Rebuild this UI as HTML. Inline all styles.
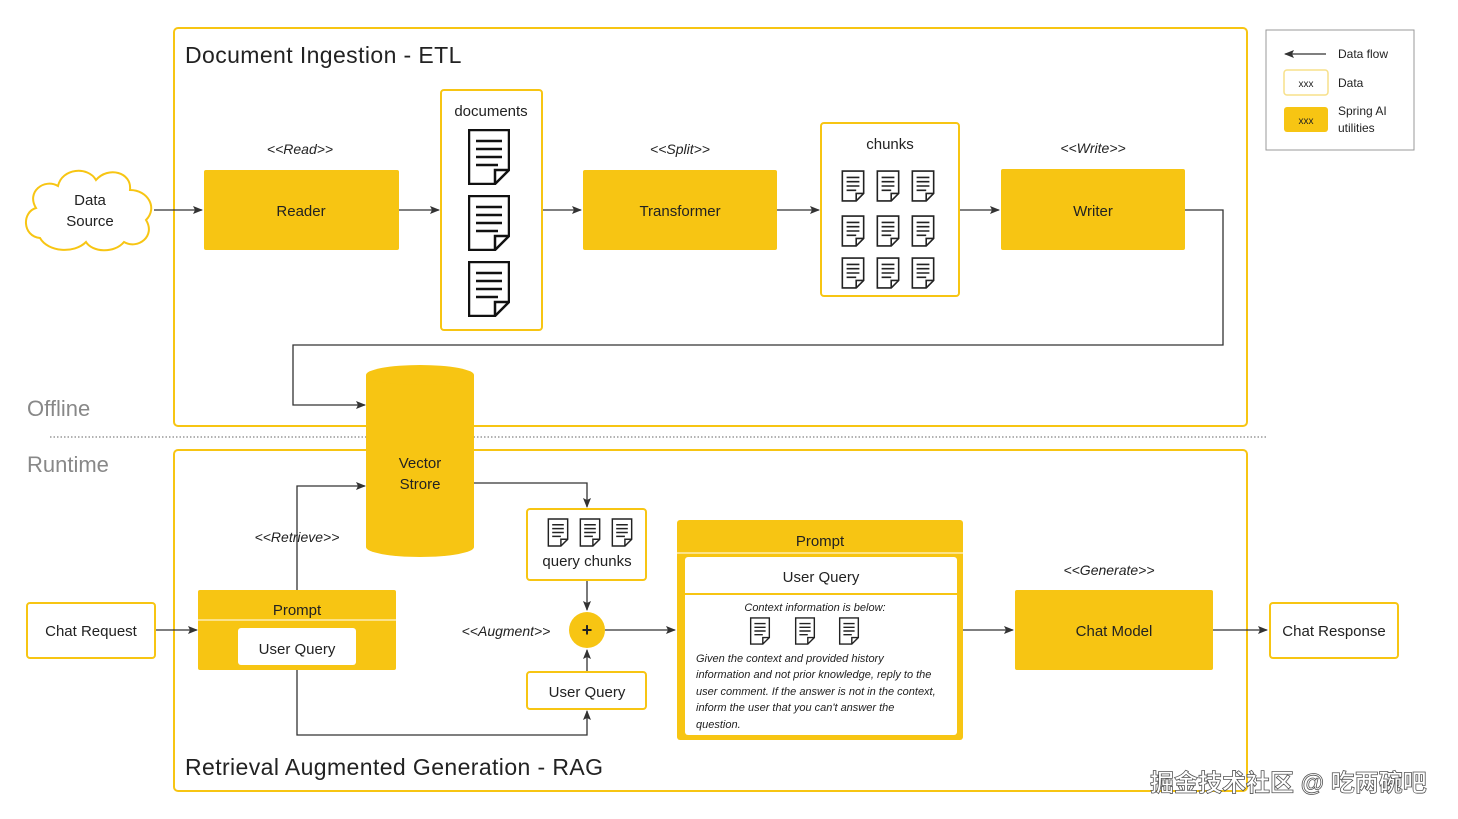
<!DOCTYPE html>
<html><head><meta charset="utf-8"><style>
html,body{margin:0;padding:0;background:#fff;}
svg{display:block;font-family:"Liberation Sans","Noto Sans CJK SC",sans-serif;}
</style></head><body>
<svg width="1458" height="819" viewBox="0 0 1458 819" xmlns="http://www.w3.org/2000/svg">
<defs>
<marker id="ar" markerWidth="10" markerHeight="8" refX="9" refY="4" orient="auto" markerUnits="userSpaceOnUse">
<path d="M0,0 L10,4 L0,8 L2,4 Z" fill="#333"/></marker>
<symbol id="bd" viewBox="0 0 42 56"><path d="M1,1 H41 V41 L27,55 H1 Z" fill="#fff" stroke="#111" stroke-width="2.5"/><path d="M41,41 H27 V55" fill="none" stroke="#111" stroke-width="2.5"/><path d="M8,12H34M8,20H34M8,28H34M8,36H30" stroke="#111" stroke-width="2.5"/></symbol>
<symbol id="sd" viewBox="0 0 22 30"><path d="M1,1 H21 V22 L14,29 H1 Z" fill="#fff" stroke="#222" stroke-width="1.5"/><path d="M21,22 H14 V29" fill="none" stroke="#222" stroke-width="1.5"/><path d="M5,7H17M5,11H17M5,15H17M5,19H14" stroke="#222" stroke-width="1.5"/></symbol>
</defs>
<g fill="none" stroke="#f7c513" stroke-width="2">
<rect x="174" y="28" width="1073" height="398" rx="4"/>
<rect x="174" y="450" width="1073" height="341" rx="4"/>
</g>
<line x1="50" y1="437" x2="1268" y2="437" stroke="#999" stroke-width="1.5" stroke-dasharray="1.5,2"/>
<text x="185" y="63" font-size="23" letter-spacing="0.4" fill="#222">Document Ingestion - ETL</text>
<text x="185" y="775" font-size="23" letter-spacing="0.4" fill="#222">Retrieval Augmented Generation - RAG</text>
<text x="27" y="416" font-size="22" fill="#888">Offline</text>
<text x="27" y="472" font-size="22" fill="#888">Runtime</text>

<path d="M40,238 C22,236 22,212 36,208 C26,192 44,178 58,186 C62,168 88,166 96,180 C108,166 132,172 130,190 C148,190 158,208 146,220 C156,236 138,250 124,242 C114,254 92,252 86,242 C74,254 48,252 40,238 Z" fill="#fff" stroke="#f7c513" stroke-width="2"/>
<text x="90" y="205" font-size="15" fill="#222" text-anchor="middle">Data</text>
<text x="90" y="226" font-size="15" fill="#222" text-anchor="middle">Source</text>

<g stroke="#333" stroke-width="1.3" fill="none" marker-end="url(#ar)">
<line x1="154" y1="210" x2="202" y2="210"/>
<line x1="399" y1="210" x2="439" y2="210"/>
<line x1="542" y1="210" x2="581" y2="210"/>
<line x1="777" y1="210" x2="819" y2="210"/>
<line x1="959" y1="210" x2="999" y2="210"/>
<path d="M1185,210 H1223 V345 H293 V405 H365"/>
<path d="M297,590 V486 H365"/>
<path d="M474,483 H587 V507"/>
<line x1="587" y1="580" x2="587" y2="610"/>
<line x1="587" y1="672" x2="587" y2="650"/>
<path d="M297,670 V735 H587 V711"/>
<line x1="155" y1="630" x2="197" y2="630"/>
<line x1="605" y1="630" x2="675" y2="630"/>
<line x1="963" y1="630" x2="1013" y2="630"/>
<line x1="1213" y1="630" x2="1267" y2="630"/>
</g>

<g fill="#f7c513">
<rect x="204" y="170" width="195" height="80" rx="2"/>
<rect x="583" y="170" width="194" height="80" rx="2"/>
<rect x="1001" y="169" width="184" height="81" rx="2"/>
<rect x="1015" y="590" width="198" height="80" rx="2"/>
</g>
<g font-size="15" fill="#222" text-anchor="middle">
<text x="301" y="216">Reader</text>
<text x="680" y="216">Transformer</text>
<text x="1093" y="216">Writer</text>
<text x="1114" y="636">Chat Model</text>
</g>
<g font-size="14" fill="#222" text-anchor="middle" font-style="italic">
<text x="300" y="154">&lt;&lt;Read&gt;&gt;</text>
<text x="680" y="154">&lt;&lt;Split&gt;&gt;</text>
<text x="1093" y="153">&lt;&lt;Write&gt;&gt;</text>
<text x="297" y="542">&lt;&lt;Retrieve&gt;&gt;</text>
<text x="506" y="636">&lt;&lt;Augment&gt;&gt;</text>
<text x="1109" y="575">&lt;&lt;Generate&gt;&gt;</text>
</g>

<rect x="441" y="90" width="101" height="240" rx="3" fill="#fff" stroke="#f7c513" stroke-width="2"/>
<text x="491" y="116" font-size="15" fill="#222" text-anchor="middle">documents</text>
<use href="#bd" x="468" y="129" width="42" height="56"/>
<use href="#bd" x="468" y="195" width="42" height="56"/>
<use href="#bd" x="468" y="261" width="42" height="56"/>

<rect x="821" y="123" width="138" height="173" rx="3" fill="#fff" stroke="#f7c513" stroke-width="2"/>
<text x="890" y="149" font-size="15" fill="#222" text-anchor="middle">chunks</text>
<g>
<use href="#sd" x="841" y="170" width="24" height="32"/><use href="#sd" x="876" y="170" width="24" height="32"/><use href="#sd" x="911" y="170" width="24" height="32"/>
<use href="#sd" x="841" y="215" width="24" height="32"/><use href="#sd" x="876" y="215" width="24" height="32"/><use href="#sd" x="911" y="215" width="24" height="32"/>
<use href="#sd" x="841" y="257" width="24" height="32"/><use href="#sd" x="876" y="257" width="24" height="32"/><use href="#sd" x="911" y="257" width="24" height="32"/>
</g>

<path d="M366,375 V547 A54,10 0 0 0 474,547 V375 Z" fill="#f7c513"/>
<ellipse cx="420" cy="375" rx="54" ry="10" fill="#f7c513"/>
<text x="420" y="468" font-size="15" fill="#222" text-anchor="middle">Vector</text>
<text x="420" y="489" font-size="15" fill="#222" text-anchor="middle">Strore</text>

<rect x="27" y="603" width="128" height="55" rx="3" fill="#fff" stroke="#f7c513" stroke-width="2"/>
<text x="91" y="636" font-size="15" fill="#222" text-anchor="middle">Chat Request</text>
<rect x="1270" y="603" width="128" height="55" rx="3" fill="#fff" stroke="#f7c513" stroke-width="2"/>
<text x="1334" y="636" font-size="15" fill="#222" text-anchor="middle">Chat Response</text>

<rect x="198" y="590" width="198" height="80" rx="2" fill="#f7c513"/>
<line x1="198" y1="620" x2="396" y2="620" stroke="#fff" stroke-width="1"/>
<text x="297" y="615" font-size="15" fill="#222" text-anchor="middle">Prompt</text>
<rect x="238" y="628" width="118" height="37" rx="3" fill="#fff"/>
<text x="297" y="654" font-size="15" fill="#222" text-anchor="middle">User Query</text>

<rect x="527" y="509" width="119" height="71" rx="3" fill="#fff" stroke="#f7c513" stroke-width="2"/>
<use href="#sd" x="547" y="518" width="22" height="29"/><use href="#sd" x="579" y="518" width="22" height="29"/><use href="#sd" x="611" y="518" width="22" height="29"/>
<text x="587" y="566" font-size="15" fill="#222" text-anchor="middle">query chunks</text>
<rect x="527" y="672" width="119" height="37" rx="3" fill="#fff" stroke="#f7c513" stroke-width="2"/>
<text x="587" y="697" font-size="15" fill="#222" text-anchor="middle">User Query</text>
<circle cx="587" cy="630" r="18" fill="#f7c513"/>
<text x="587" y="636" font-size="18" font-weight="bold" fill="#222" text-anchor="middle">+</text>

<rect x="677" y="520" width="286" height="220" rx="3" fill="#f7c513"/>
<line x1="677" y1="553" x2="963" y2="553" stroke="#fff" stroke-width="1"/>
<text x="820" y="546" font-size="15" fill="#222" text-anchor="middle">Prompt</text>
<rect x="685" y="557" width="272" height="178" rx="3" fill="#fff"/>
<line x1="685" y1="594" x2="957" y2="594" stroke="#f7c513" stroke-width="2"/>
<text x="821" y="582" font-size="15" fill="#222" text-anchor="middle">User Query</text>
<text x="815" y="611" font-size="11" font-style="italic" fill="#222" text-anchor="middle">Context information is below:</text>
<use href="#sd" x="749" y="617" width="22" height="28"/><use href="#sd" x="794" y="617" width="22" height="28"/><use href="#sd" x="838" y="617" width="22" height="28"/>
<g font-size="11" font-style="italic" fill="#222">
<text x="696" y="662">Given the context and provided history</text>
<text x="696" y="678">information and not prior knowledge, reply to the</text>
<text x="696" y="695">user comment. If the answer is not in the context,</text>
<text x="696" y="711">inform the user that you can't answer the</text>
<text x="696" y="728">question.</text>
</g>

<rect x="1266" y="30" width="148" height="120" fill="#fff" stroke="#999" stroke-width="1"/>
<line x1="1326" y1="54" x2="1285" y2="54" stroke="#333" stroke-width="1.3" marker-end="url(#ar)"/>
<text x="1338" y="58" font-size="12" fill="#222">Data flow</text>
<rect x="1284" y="70" width="44" height="25" rx="3" fill="#fff" stroke="#f7e08a" stroke-width="1.5"/>
<text x="1306" y="87" font-size="10" fill="#222" text-anchor="middle">xxx</text>
<text x="1338" y="87" font-size="12" fill="#222">Data</text>
<rect x="1284" y="107" width="44" height="25" rx="3" fill="#f7c513"/>
<text x="1306" y="124" font-size="10" fill="#222" text-anchor="middle">xxx</text>
<text x="1338" y="115" font-size="12" fill="#222">Spring AI</text>
<text x="1338" y="132" font-size="12" fill="#222">utilities</text>

<text x="1150" y="791" font-size="24" fill="#fff" stroke="#555" stroke-width="0.8" font-weight="bold">掘金技术社区 @ 吃两碗吧</text>
</svg>
</body></html>
